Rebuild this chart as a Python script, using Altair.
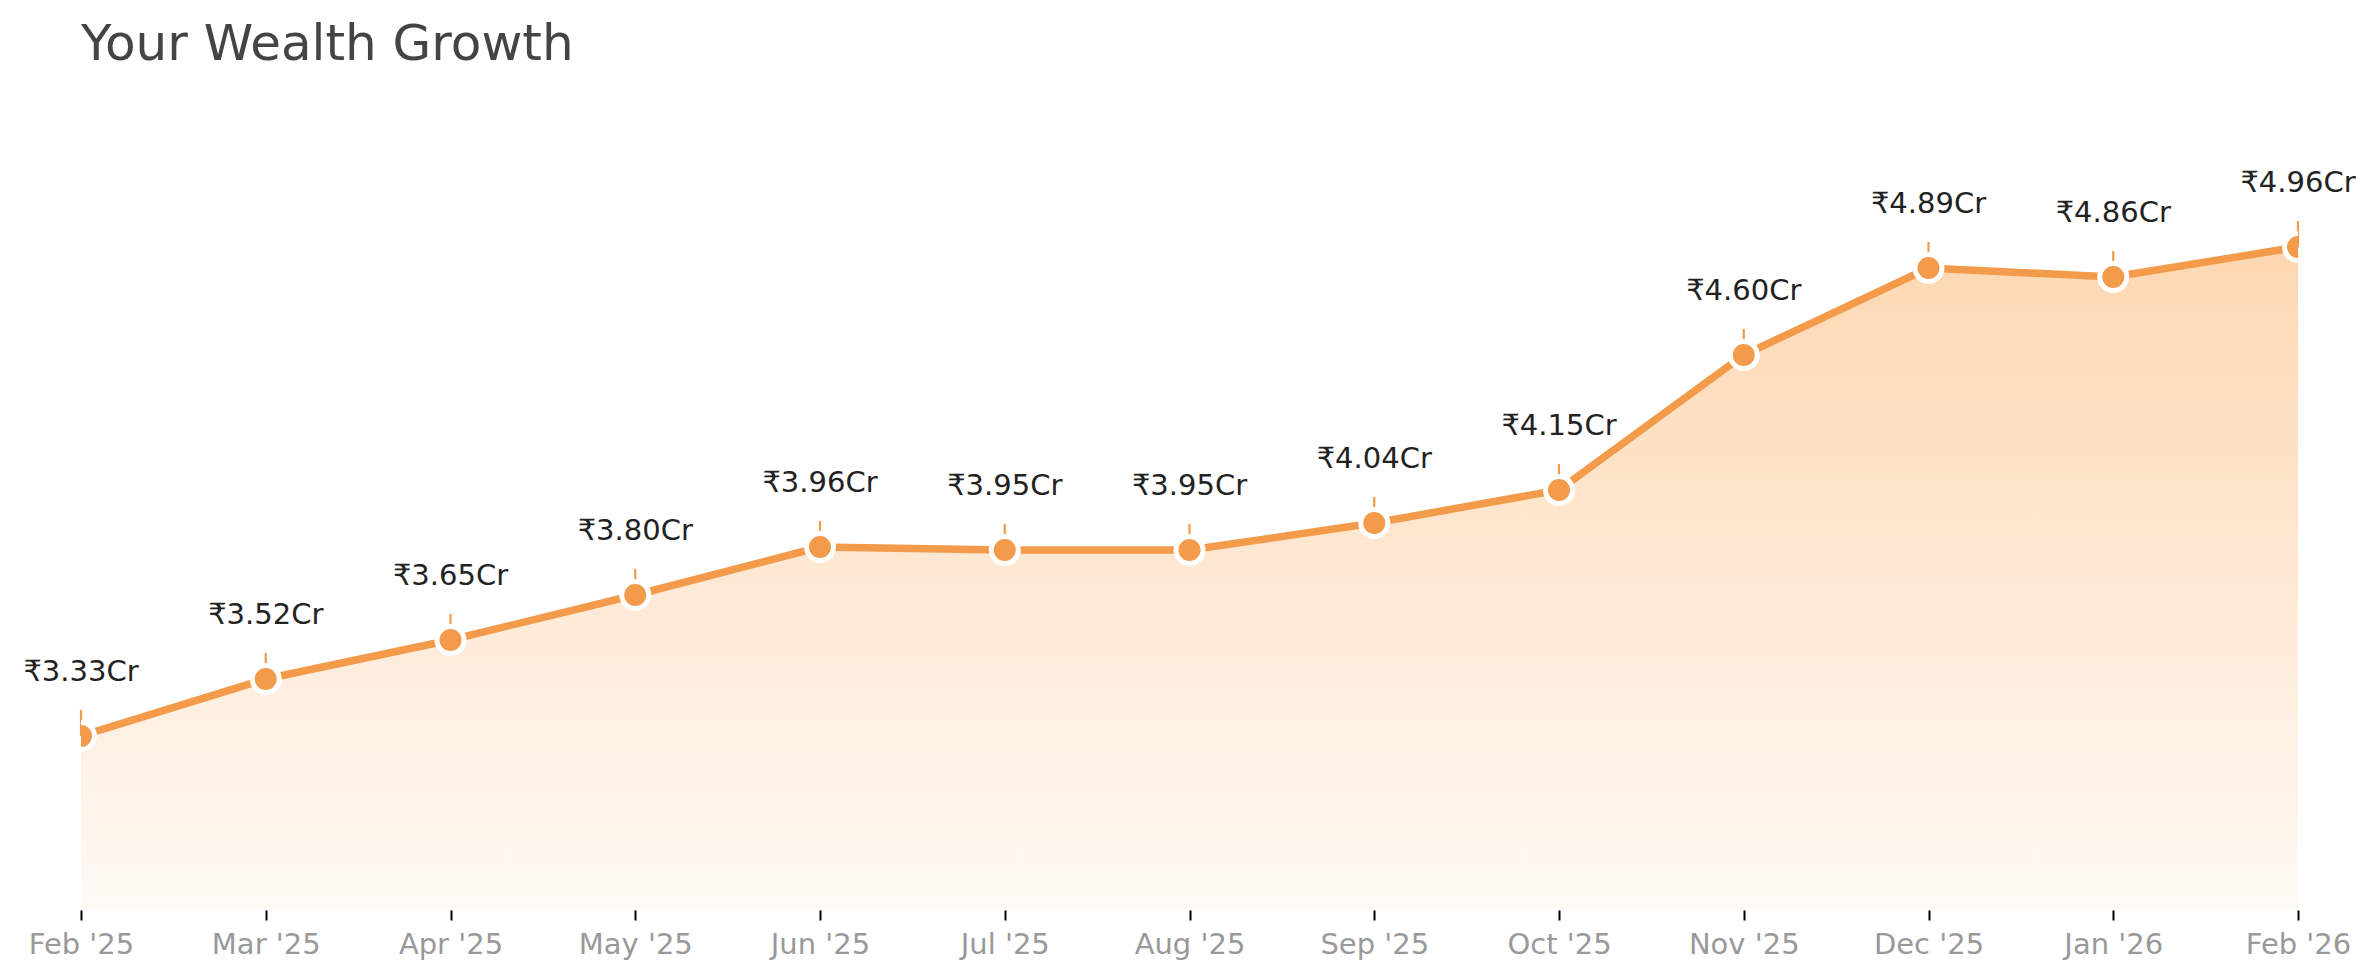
import altair as alt
import pandas as pd

months = ["Feb '25", "Mar '25", "Apr '25", "May '25", "Jun '25", "Jul '25", "Aug '25",
          "Sep '25", "Oct '25", "Nov '25", "Dec '25", "Jan '26", "Feb '26"]
values = [3.33, 3.52, 3.65, 3.80, 3.96, 3.95, 3.95, 4.04, 4.15, 4.60, 4.89, 4.86, 4.96]
labels = ["₹3.33Cr", "₹3.52Cr", "₹3.65Cr", "₹3.80Cr", "₹3.96Cr", "₹3.95Cr", "₹3.95Cr",
          "₹4.04Cr", "₹4.15Cr", "₹4.60Cr", "₹4.89Cr", "₹4.86Cr", "₹4.96Cr"]

y_min, y_max = 2.75, 5.40

df = pd.DataFrame({"month": months, "value": values, "label": labels})

LINE = "#F39A4B"
FONT = "DejaVu Sans"

x_enc = alt.X("month:N", sort=months, scale=alt.Scale(type="point", padding=0),
              axis=alt.Axis(title=None, labelAngle=0, domain=False, grid=False,
                            ticks=True, tickColor="#000000", tickWidth=2, tickSize=10,
                            labelFontSize=29, labelColor="#999999", labelFont=FONT,
                            labelPadding=10))
y_scale = alt.Scale(domain=[y_min, y_max], zero=False, nice=False)
y_enc = alt.Y("value:Q", scale=y_scale, axis=None)

base = alt.Chart(df).encode(x=x_enc)

area = base.mark_area(
    clip=True,
    color=alt.Gradient(gradient="linear",
                       stops=[alt.GradientStop(color="#FDD7B1", offset=0),
                              alt.GradientStop(color="#FFFAF6", offset=1)],
                       x1=1, x2=1, y1=0, y2=1),
).encode(y=y_enc, y2=alt.datum(y_min))

line = base.mark_line(color=LINE, strokeWidth=7.5, clip=True).encode(y=y_enc)

stem = base.mark_rule(color=LINE, strokeWidth=2.2, y2Offset=-26).encode(
    y=y_enc, y2="value:Q")

pts = base.mark_point(filled=True, shape="circle", size=729, color=LINE, opacity=1,
                      stroke="white", strokeWidth=5, clip=True).encode(y=y_enc)

txt = base.mark_text(dy=-55, baseline="alphabetic", fontSize=29, font=FONT,
                     color="#222222").encode(y=y_enc, text="label:N")

chart = alt.layer(area, line, stem, pts, txt).properties(
    width=2217, height=795,
    title=alt.TitleParams("Your Wealth Growth", anchor="start", frame="group",
                          fontSize=50, font=FONT,
                          fontWeight="normal", color="#444444", offset=45),
    autosize=alt.AutoSizeParams(type="none"),
    padding={"left": 73, "top": 107, "right": 70, "bottom": 55},
).configure(background="white").configure_view(stroke=None)

chart.save("out.html", embed_options={"renderer": "svg", "actions": False})
